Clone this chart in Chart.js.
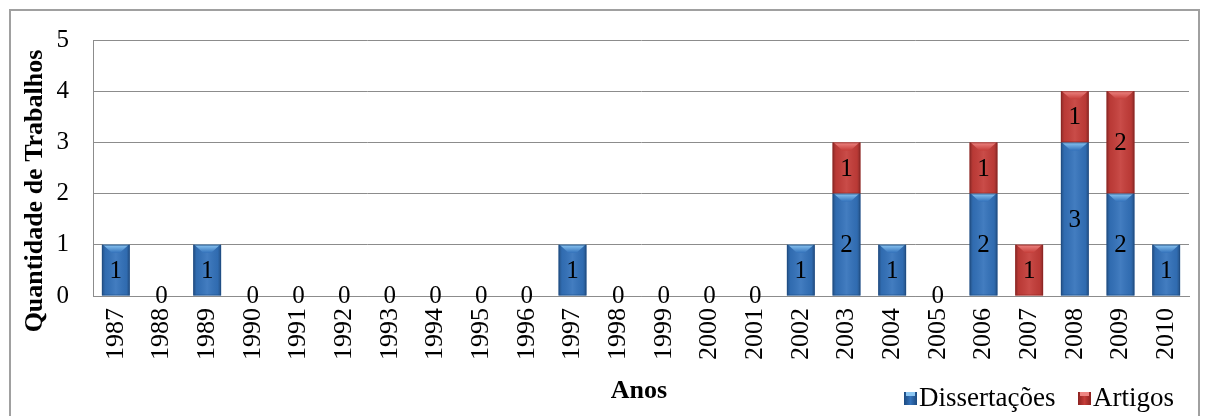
<!DOCTYPE html>
<html>
<head>
<meta charset="utf-8">
<script src="https://cdn.jsdelivr.net/npm/chart.js@4/dist/chart.umd.min.js"></script>
<style>
  html, body { margin: 0; padding: 0; background: #ffffff; }
  #wrap { width: 1206px; height: 416px; position: relative; }
</style>
</head>
<body>
<div id="wrap"><canvas id="c" width="1206" height="416"></canvas></div>
<script>
const years = ["1987","1988","1989","1990","1991","1992","1993","1994","1995","1996","1997","1998","1999","2000","2001","2002","2003","2004","2005","2006","2007","2008","2009","2010"];
const dissertacoes = [1,0,1,0,0,0,0,0,0,0,1,0,0,0,0,1,2,1,0,2,0,3,2,1];
const artigos      = [0,0,0,0,0,0,0,0,0,0,0,0,0,0,0,0,1,0,0,1,1,1,2,0];
const yTicks = [0,1,2,3,4,5];
const seriesNames = ["Dissertações","Artigos"];

const SERIF = "'Liberation Serif', 'Times New Roman', serif";
const baseColors = ["#3372bb", "#c53d39"];
const lightColors = ["#8cc6f2", "#ee8683"];
const darkColors = ["#1c4a80", "#8c2220"];

const decorPlugin = {
  id: 'decor',
  afterDatasetsDraw(chart) {
    const ctx = chart.ctx;
    chart.data.datasets.forEach((ds, di) => {
      const meta = chart.getDatasetMeta(di);
      meta.data.forEach((bar, i) => {
        const v = ds.data[i];
        if (!v) return;
        const p = bar.getProps(['x','y','base','width'], true);
        const l = p.x - p.width / 2, r = p.x + p.width / 2;
        const top = Math.min(p.y, p.base), bot = Math.max(p.y, p.base);
        ctx.save();
        const g = ctx.createLinearGradient(l, 0, r, 0);
        g.addColorStop(0, 'rgba(0,0,0,0.30)');
        g.addColorStop(0.12, 'rgba(0,0,0,0.06)');
        g.addColorStop(0.5, 'rgba(255,255,255,0.08)');
        g.addColorStop(0.88, 'rgba(0,0,0,0.06)');
        g.addColorStop(1, 'rgba(0,0,0,0.30)');
        ctx.fillStyle = g;
        ctx.fillRect(l, top, r - l, bot - top);
        // top bevel highlight
        const hg = ctx.createLinearGradient(0, top, 0, top + 8);
        hg.addColorStop(0, lightColors[di]);
        hg.addColorStop(1, baseColors[di]);
        ctx.fillStyle = hg;
        ctx.beginPath();
        ctx.moveTo(l + 1, top);
        ctx.lineTo(r - 1, top);
        ctx.lineTo(p.x + 4, top + 8);
        ctx.lineTo(p.x - 4, top + 8);
        ctx.closePath();
        ctx.fill();
        ctx.strokeStyle = darkColors[di];
        ctx.globalAlpha = 0.6;
        ctx.lineWidth = 1;
        ctx.strokeRect(l + 0.5, top + 0.5, r - l - 1, bot - top - 1);
        ctx.restore();
      });
    });
    // data labels
    ctx.save();
    ctx.font = '25px ' + SERIF;
    ctx.fillStyle = '#000';
    ctx.textAlign = 'center';
    ctx.textBaseline = 'middle';
    chart.data.datasets.forEach((ds, di) => {
      const meta = chart.getDatasetMeta(di);
      meta.data.forEach((bar, i) => {
        const v = ds.data[i];
        const p = bar.getProps(['x','y','base'], true);
        if (v > 0) {
          ctx.fillText(String(v), p.x, (p.y + p.base) / 2 + 1);
        } else if (di === 0 && dissertacoes[i] + artigos[i] === 0) {
          ctx.fillText('0', p.x, p.base);
        }
      });
    });
    ctx.restore();
  },
  afterDraw(chart) {
    const ctx = chart.ctx;
    ctx.save();
    // outer border
    ctx.strokeStyle = '#a0a0a0';
    ctx.lineWidth = 2;
    ctx.strokeRect(10, 10, 1189, 430);
    // y title
    ctx.fillStyle = '#000';
    ctx.font = 'bold 26px ' + SERIF;
    ctx.textAlign = 'center';
    ctx.textBaseline = 'middle';
    ctx.translate(35, 191);
    ctx.rotate(-Math.PI / 2);
    ctx.fillText('Quantidade de Trabalhos', 0, 0);
    ctx.setTransform(1, 0, 0, 1, 0, 0);
    // x title
    ctx.font = 'bold 26px ' + SERIF;
    ctx.fillText('Anos', 639, 391);
    // legend
    ctx.font = '27px ' + SERIF;
    ctx.textAlign = 'left';
    const items = [{x: 904, tx: 919}, {x: 1078, tx: 1093}];
    items.forEach((it, k) => {
      const g = ctx.createLinearGradient(it.x, 0, it.x + 13, 0);
      g.addColorStop(0, darkColors[k]);
      g.addColorStop(0.5, baseColors[k]);
      g.addColorStop(1, darkColors[k]);
      ctx.fillStyle = g;
      ctx.fillRect(it.x, 392, 13, 13);
      ctx.fillStyle = lightColors[k];
      ctx.fillRect(it.x + 2, 392, 9, 4);
      ctx.fillStyle = '#000';
      ctx.fillText(seriesNames[k], it.tx, 399);
    });
    ctx.restore();
  }
};

new Chart(document.getElementById('c'), {
  type: 'bar',
  data: {
    labels: years,
    datasets: [
      { label: seriesNames[0], data: dissertacoes, backgroundColor: baseColors[0], borderWidth: 0,
        barPercentage: 0.61, categoryPercentage: 1.0 },
      { label: seriesNames[1], data: artigos, backgroundColor: baseColors[1], borderWidth: 0,
        barPercentage: 0.61, categoryPercentage: 1.0 }
    ]
  },
  options: {
    responsive: false,
    animation: false,
    events: [],
    layout: { padding: { left: 0, right: 17, top: 40, bottom: 0 } },
    plugins: { legend: { display: false }, tooltip: { enabled: false } },
    scales: {
      x: {
        stacked: true,
        grid: { display: false, drawTicks: false },
        border: { display: true, color: '#8c8c8c', width: 1 },
        ticks: {
          color: '#000', font: { family: SERIF, size: 26 },
          maxRotation: 90, minRotation: 90, padding: 12, autoSkip: false
        },
        afterFit(scale) { scale.height = 120; scale.paddingLeft = 0; scale.paddingRight = 0; }
      },
      y: {
        stacked: true,
        min: 0, max: 5,
        afterBuildTicks(scale) { scale.ticks = yTicks.map(v => ({ value: v })); },
        grid: { color: '#8c8c8c', lineWidth: 1, drawTicks: false },
        border: { display: true, color: '#8c8c8c', width: 1 },
        ticks: { color: '#000', font: { family: SERIF, size: 25 }, padding: 24 },
        afterFit(scale) { scale.width = 93; scale.paddingTop = 0; scale.paddingBottom = 0; }
      }
    }
  },
  plugins: [decorPlugin]
});
</script>
</body>
</html>
